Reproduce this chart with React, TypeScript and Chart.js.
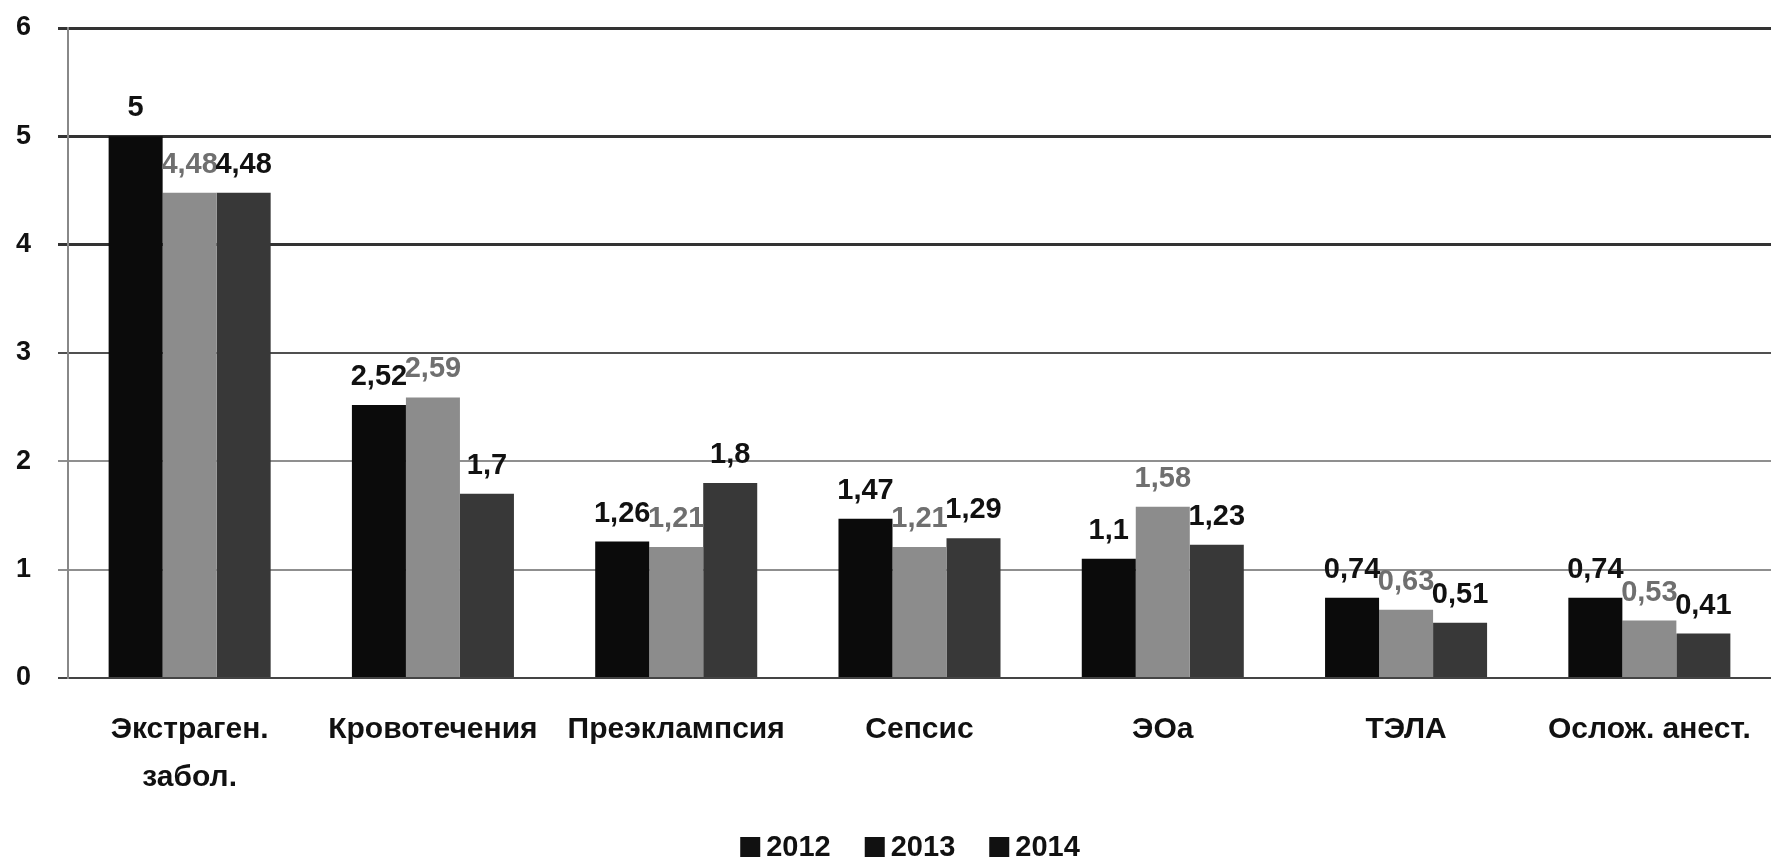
import React, { useEffect, useRef } from "react";
import { Chart, registerables } from "chart.js";

Chart.register(...registerables);

const categories: (string | string[])[] = [
  ["Экстраген.", "забол."],
  "Кровотечения",
  "Преэклампсия",
  "Сепсис",
  "ЭОа",
  "ТЭЛА",
  "Ослож. анест.",
];
const years = ["2012", "2013", "2014"];
const values2012 = [5, 2.52, 1.26, 1.47, 1.1, 0.74, 0.74];
const values2013 = [4.48, 2.59, 1.21, 1.21, 1.58, 0.63, 0.53];
const values2014 = [4.48, 1.7, 1.8, 1.29, 1.23, 0.51, 0.41];
const yTicks = [0, 1, 2, 3, 4, 5, 6];

const barColors = ["#0b0b0b", "#8c8c8c", "#383838"];
const labelColors = ["#111111", "#6f6f6f", "#111111"];
const FONT = "'Liberation Sans', Arial, sans-serif";

const valueLabels = {
  id: "valueLabels",
  afterDatasetsDraw(chart: any) {
    const ctx = chart.ctx;
    ctx.save();
    ctx.font = `bold 29px ${FONT}`;
    ctx.textAlign = "center";
    ctx.textBaseline = "middle";
    chart.data.datasets.forEach((ds: any, di: number) => {
      const meta = chart.getDatasetMeta(di);
      meta.data.forEach((bar: any, i: number) => {
        const v = ds.data[i];
        ctx.fillStyle = labelColors[di];
        ctx.fillText(String(v).replace(".", ","), bar.x, bar.y - 28);
      });
    });
    ctx.restore();
  },
};

const customLegend = {
  id: "customLegend",
  afterDraw(chart: any) {
    const ctx = chart.ctx;
    ctx.save();
    ctx.font = `bold 29px ${FONT}`;
    ctx.textBaseline = "middle";
    ctx.textAlign = "left";
    const box = 20;
    const gap = 6;
    const itemGap = 34;
    const widths = years.map((y) => box + gap + ctx.measureText(y).width);
    const total = widths.reduce((a, b) => a + b, 0) + itemGap * (years.length - 1);
    const cx = 910;
    let x = cx - total / 2;
    const y = 847;
    years.forEach((yr, i) => {
      ctx.fillStyle = "#111111";
      ctx.fillRect(x, y - box / 2, box, box);
      ctx.fillText(yr, x + box + gap, y + 1);
      x += widths[i] + itemGap;
    });
    ctx.restore();
  },
};

function gridColor(v: number) {
  if (v >= 4) return "#333333";
  if (v === 3) return "#505050";
  if (v === 0) return "#444444";
  return "#8f8f8f";
}

export default function App() {
  const ref = useRef<HTMLCanvasElement | null>(null);
  useEffect(() => {
    document.body.style.margin = "0";
    const canvas = ref.current!;
    const chart = new Chart(canvas, {
      type: "bar",
      data: {
        labels: categories,
        datasets: [values2012, values2013, values2014].map((d, i) => ({
          label: years[i],
          data: d,
          backgroundColor: barColors[i],
          borderWidth: 0,
          categoryPercentage: 0.666,
          barPercentage: 1.0,
        })),
      },
      options: {
        responsive: false,
        animation: false,
        layout: { padding: { top: 28, right: 0, left: 16, bottom: 40 } },
        plugins: {
          tooltip: { enabled: false },
          legend: { display: false },
        },
        scales: {
          x: {
            grid: { display: false },
            border: { display: true, color: "#444", width: 2 },
            ticks: {
              color: "#111",
              padding: 20,
              maxRotation: 0,
              autoSkip: false,
              font: { family: FONT, size: 30, weight: "bold", lineHeight: 1.6 },
            },
            afterFit: (s: any) => {
              s.height = 144;
            },
          },
          y: {
            min: 0,
            max: 6,
            afterBuildTicks: (s: any) => {
              s.ticks = yTicks.map((v) => ({ value: v }));
            },
            border: { display: true, color: "#888", width: 2 },
            grid: {
              tickLength: 10,
              color: (c: any) => gridColor(c.tick ? c.tick.value : 0),
              lineWidth: (c: any) => (c.tick && c.tick.value >= 4 ? 3 : 2),
            },
            ticks: {
              color: "#111",
              padding: 2,
              crossAlign: "far",
              font: { family: FONT, size: 27, weight: "bold" },
            },
            afterFit: (s: any) => {
              s.width = 52;
            },
          },
        },
      },
      plugins: [valueLabels, customLegend],
    });
    return () => chart.destroy();
  }, []);
  return (
    <div style={{ width: 1771, height: 862, background: "#fff" }}>
      <canvas ref={ref} width={1771} height={862} />
    </div>
  );
}
